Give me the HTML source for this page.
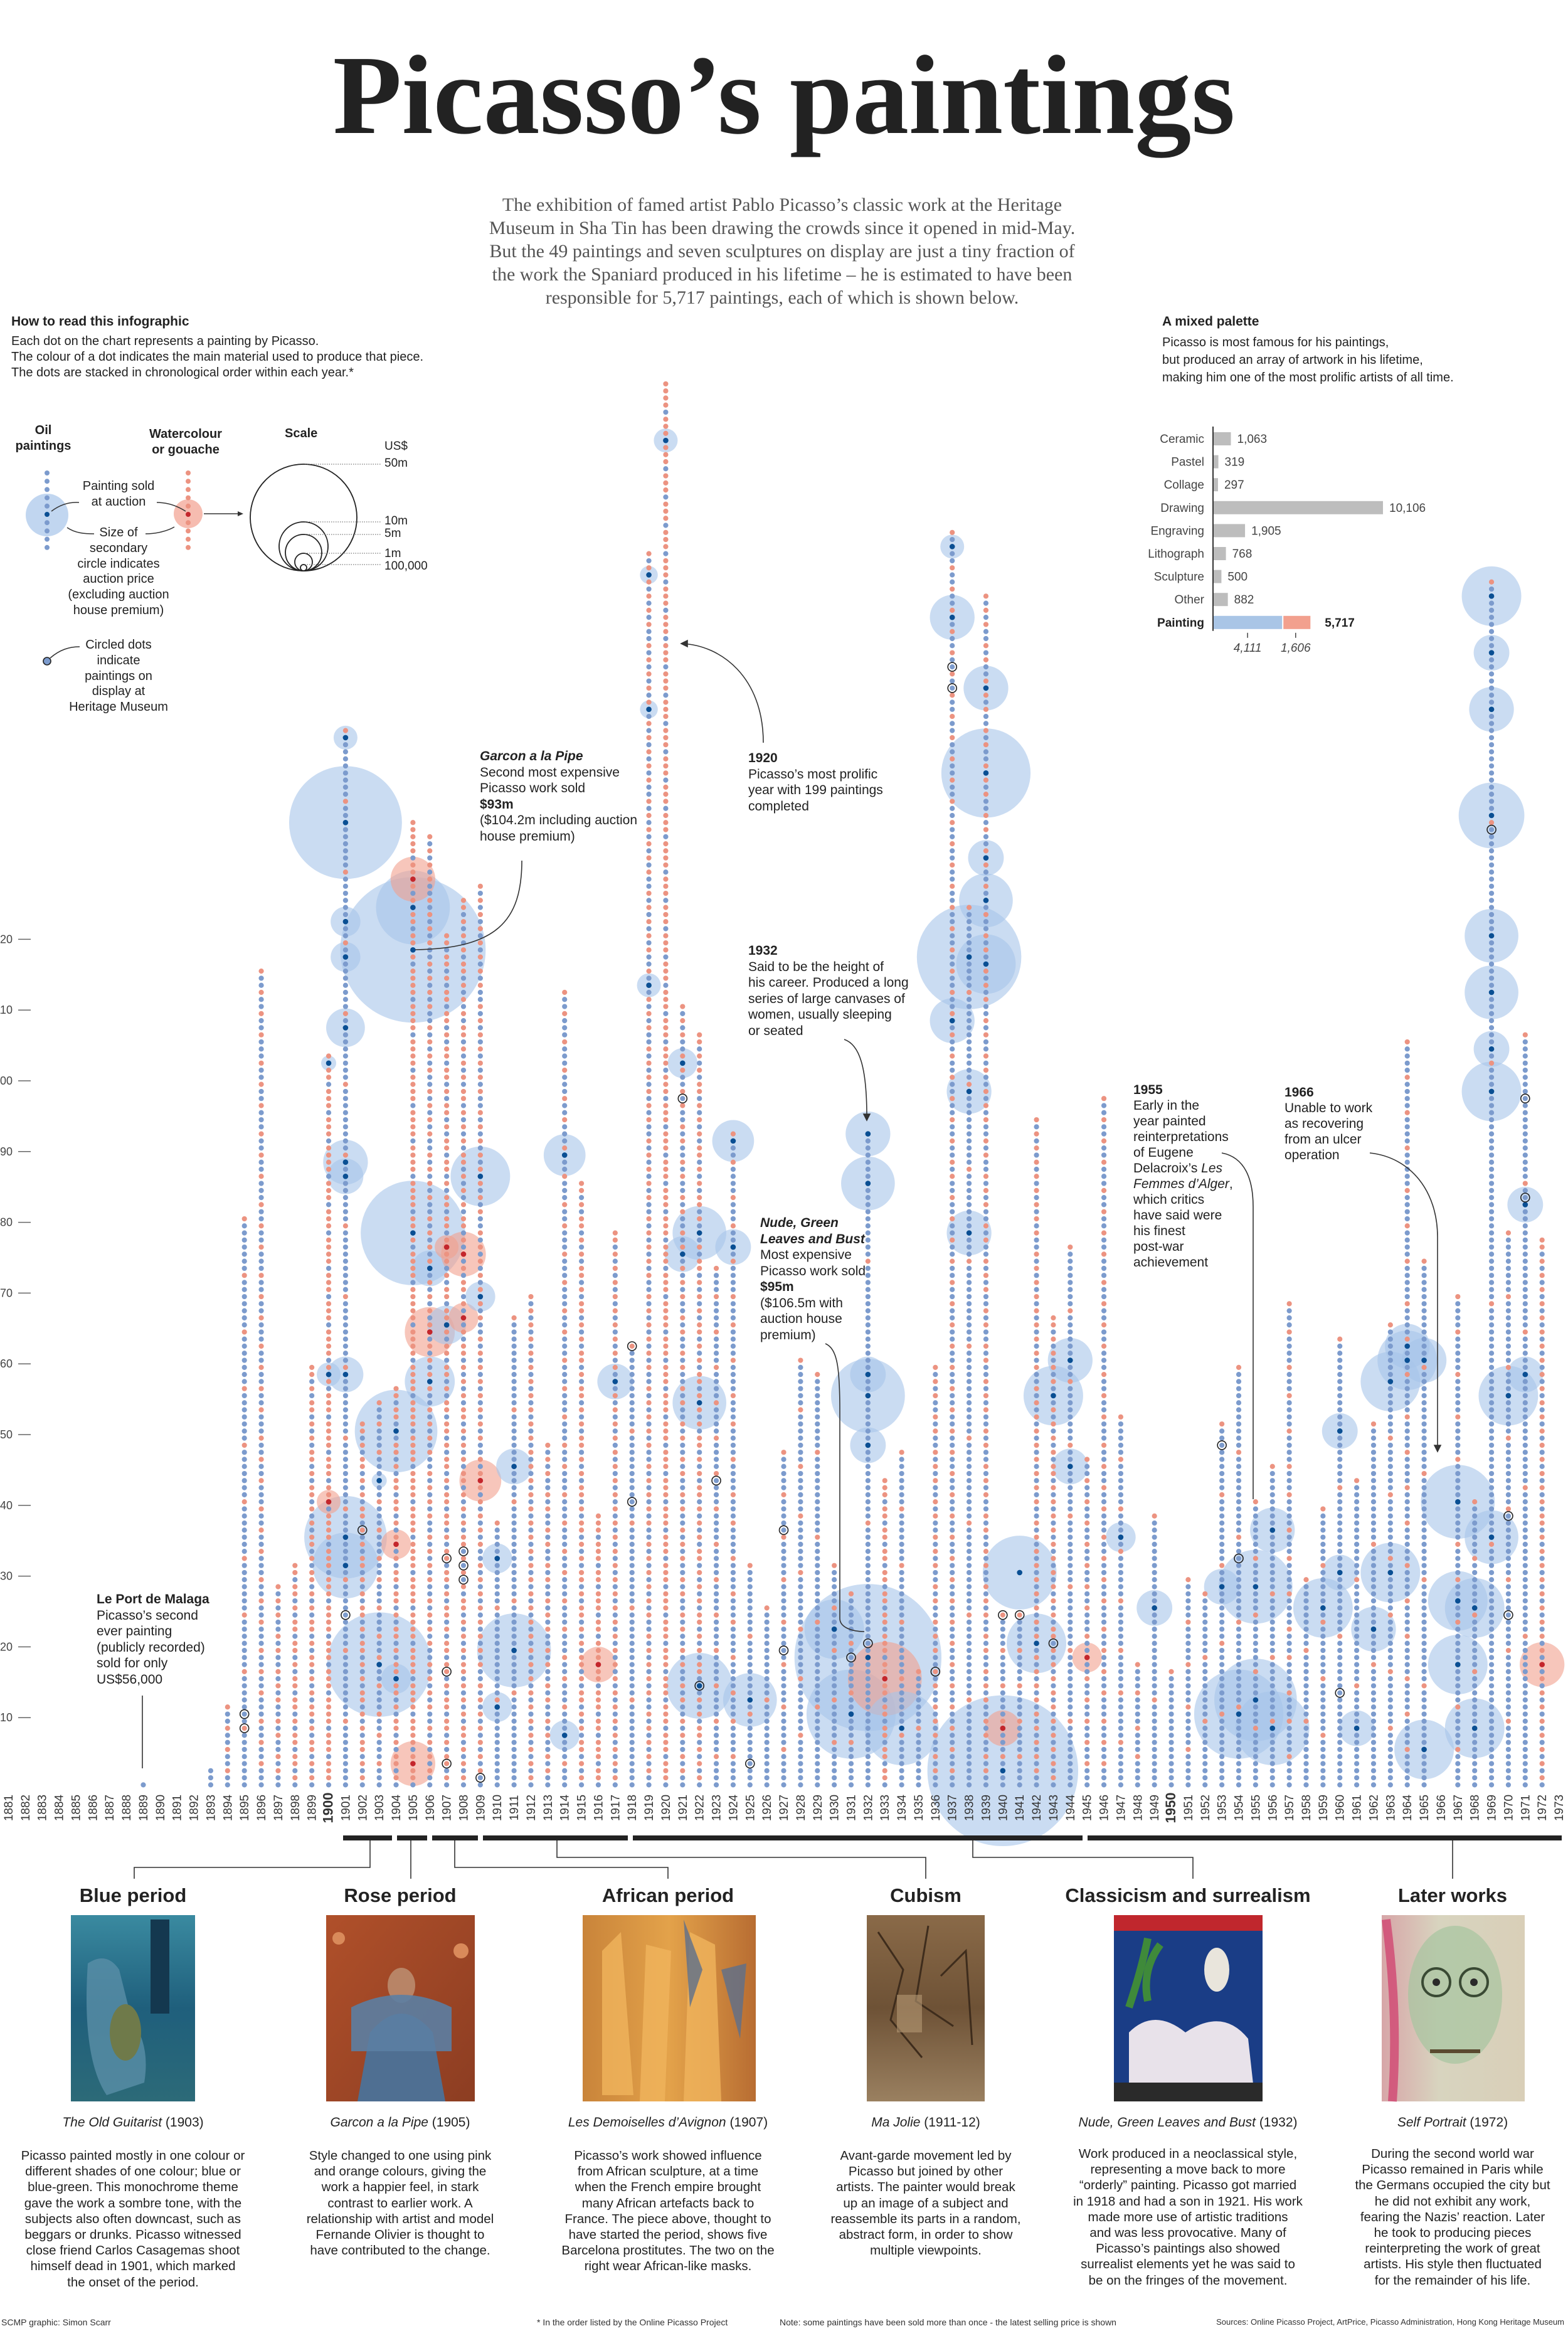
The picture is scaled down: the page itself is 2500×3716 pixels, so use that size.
<!DOCTYPE html>
<html><head><meta charset="utf-8">
<style>
html,body{margin:0;padding:0;background:#fff;}
body{width:2500px;height:3716px;position:relative;overflow:hidden;font-family:"Liberation Sans Narrow","Liberation Sans",sans-serif;color:#222;}
.abs{position:absolute;}
.t{font-family:"Liberation Sans Narrow","Liberation Sans",sans-serif;}
.ann{font-size:21px;line-height:25.5px;color:#222;}
.ann b{font-weight:700;}
.ptitle{font-size:31px;font-weight:700;text-align:center;width:500px;margin-left:-250px;top:3004px;}
.cap{font-size:21px;font-style:normal;text-align:center;width:460px;margin-left:-230px;top:3372px;}
.body{font-size:20.5px;line-height:25.2px;text-align:center;width:460px;margin-left:-230px;top:3424px;color:#222;}
.foot{font-size:14px;top:3694px;color:#333;white-space:nowrap;}
</style></head>
<body>

<div class="abs" style="left:0;width:2500px;top:62px;text-align:center;font-family:'Liberation Serif',serif;font-weight:700;font-size:180px;line-height:180px;color:#222;">Picasso’s paintings</div>

<div class="abs" style="left:647px;width:1200px;top:308px;text-align:center;font-family:'Liberation Serif',serif;font-size:30px;line-height:37px;color:#555;">The exhibition of famed artist Pablo Picasso’s classic work at the Heritage<br>Museum in Sha Tin has been drawing the crowds since it opened in mid-May.<br>But the 49 paintings and seven sculptures on display are just a tiny fraction of<br>the work the Spaniard produced in his lifetime – he is estimated to have been<br>responsible for 5,717 paintings, each of which is shown below.</div>

<div class="abs t" style="left:18px;top:501px;font-size:21px;font-weight:700;">How to read this infographic</div>
<div class="abs t" style="left:18px;top:532px;font-size:20px;line-height:25px;">Each dot on the chart represents a painting by Picasso.<br>The colour of a dot indicates the main material used to produce that piece.<br>The dots are stacked in chronological order within each year.*</div>

<div class="abs t" style="left:19px;width:100px;top:674px;font-size:20px;line-height:25px;font-weight:700;text-align:center;">Oil<br>paintings</div>
<div class="abs t" style="left:226px;width:140px;top:680px;font-size:20px;line-height:25px;font-weight:700;text-align:center;">Watercolour<br>or gouache</div>
<div class="abs t" style="left:454px;top:680px;font-size:20px;font-weight:700;">Scale</div>
<div class="abs t" style="left:109px;width:160px;top:763px;font-size:20px;line-height:25px;text-align:center;">Painting sold<br>at auction</div>
<div class="abs t" style="left:94px;width:190px;top:837px;font-size:20px;line-height:24.8px;text-align:center;">Size of<br>secondary<br>circle indicates<br>auction price<br>(excluding auction<br>house premium)</div>
<div class="abs t" style="left:104px;width:170px;top:1016px;font-size:20px;line-height:24.8px;text-align:center;">Circled dots<br>indicate<br>paintings on<br>display at<br>Heritage Museum</div>
<div class="abs t" style="left:613px;top:0;font-size:19px;color:#222;">
<div class="abs" style="top:701px;">US$</div><div class="abs" style="top:728px;">50m</div><div class="abs" style="top:820px;">10m</div><div class="abs" style="top:840px;">5m</div><div class="abs" style="top:872px;">1m</div><div class="abs" style="top:892px;">100,000</div></div>

<div class="abs t" style="left:1853px;top:501px;font-size:21px;font-weight:700;">A mixed palette</div>
<div class="abs t" style="left:1853px;top:532px;font-size:20px;line-height:28px;">Picasso is most famous for his paintings,<br>but produced an array of artwork in his lifetime,<br>making him one of the most prolific artists of all time.</div>

<div class="abs t ann" style="left:765px;top:1193px;"><b><i>Garcon a la Pipe</i></b><br>Second most expensive<br>Picasso work sold<br><b>$93m</b><br>($104.2m including auction<br>house premium)</div>
<div class="abs t ann" style="left:1193px;top:1196px;"><b>1920</b><br>Picasso’s most prolific<br>year with 199 paintings<br>completed</div>
<div class="abs t ann" style="left:1193px;top:1503px;"><b>1932</b><br>Said to be the height of<br>his career. Produced a long<br>series of large canvases of<br>women, usually sleeping<br>or seated</div>
<div class="abs t ann" style="left:1212px;top:1937px;"><b><i>Nude, Green<br>Leaves and Bust</i></b><br>Most expensive<br>Picasso work sold<br><b>$95m</b><br>($106.5m with<br>auction house<br>premium)</div>
<div class="abs t ann" style="left:1807px;top:1725px;line-height:25px;"><b>1955</b><br>Early in the<br>year painted<br>reinterpretations<br>of Eugene<br>Delacroix’s <i>Les<br>Femmes d’Alger</i>,<br>which critics<br>have said were<br>his finest<br>post-war<br>achievement</div>
<div class="abs t ann" style="left:2048px;top:1729px;line-height:25px;"><b>1966</b><br>Unable to work<br>as recovering<br>from an ulcer<br>operation</div>
<div class="abs t ann" style="left:154px;top:2537px;"><b>Le Port de Malaga</b><br>Picasso’s second<br>ever painting<br>(publicly recorded)<br>sold for only<br>US$56,000</div>

<svg id="chart" class="abs" style="left:0;top:0;" width="2500" height="3716">
<g id="legendG"></g>
<g id="barG"></g>
<g id="axisG"></g>
<g id="bubbleG"></g>
<g id="dotG"></g>
<g id="markG"></g>
<g id="yearG"></g>
<g id="leaderG" fill="none" stroke="#333" stroke-width="1.6">
<path d="M832,1372 C832,1470 790,1512 662,1514"/>
<path d="M1217,1184 C1217,1080 1150,1028 1086,1026"/><path d="M1086,1026 l10,-5 v10 z" fill="#333"/>
<path d="M1346,1657 C1370,1665 1382,1700 1382,1780"/><path d="M1382,1786 l-5,-10 h10 z" fill="#333"/>
<path d="M1316,2142 C1335,2150 1339,2180 1339,2250 V2580 C1339,2595 1360,2601 1378,2601"/>
<path d="M1948,1838 C1985,1845 1998,1880 1998,1924 V2390"/>
<path d="M2184,1838 C2250,1845 2292,1900 2292,1972 V2308"/><path d="M2292,2314 l-5,-10 h10 z" fill="#333"/>
<path d="M227,2703 V2819"/>
</g>
<g id="periodG"></g>
</svg>

<div class="abs t ptitle" style="left:212px;">Blue period</div>
<div class="abs t ptitle" style="left:638px;">Rose period</div>
<div class="abs t ptitle" style="left:1065px;">African period</div>
<div class="abs t ptitle" style="left:1476px;">Cubism</div>
<div class="abs t ptitle" style="left:1894px;">Classicism and surrealism</div>
<div class="abs t ptitle" style="left:2316px;">Later works</div>

<div class="abs t cap" style="left:212px;"><i>The Old Guitarist</i> (1903)</div>
<div class="abs t cap" style="left:638px;"><i>Garcon a la Pipe</i> (1905)</div>
<div class="abs t cap" style="left:1065px;"><i>Les Demoiselles d’Avignon</i> (1907)</div>
<div class="abs t cap" style="left:1476px;"><i>Ma Jolie</i> (1911-12)</div>
<div class="abs t cap" style="left:1894px;"><i>Nude, Green Leaves and Bust</i> (1932)</div>
<div class="abs t cap" style="left:2316px;"><i>Self Portrait</i> (1972)</div>

<div class="abs t body" style="left:212px;">Picasso painted mostly in one colour or<br>different shades of one colour; blue or<br>blue-green. This monochrome theme<br>gave the work a sombre tone, with the<br>subjects also often downcast, such as<br>beggars or drunks. Picasso witnessed<br>close friend Carlos Casagemas shoot<br>himself dead in 1901, which marked<br>the onset of the period.</div>
<div class="abs t body" style="left:638px;">Style changed to one using pink<br>and orange colours, giving the<br>work a happier feel, in stark<br>contrast to earlier work. A<br>relationship with artist and model<br>Fernande Olivier is thought to<br>have contributed to the change.</div>
<div class="abs t body" style="left:1065px;">Picasso’s work showed influence<br>from African sculpture, at a time<br>when the French empire brought<br>many African artefacts back to<br>France. The piece above, thought to<br>have started the period, shows five<br>Barcelona prostitutes. The two on the<br>right wear African-like masks.</div>
<div class="abs t body" style="left:1476px;">Avant-garde movement led by<br>Picasso but joined by other<br>artists. The painter would break<br>up an image of a subject and<br>reassemble its parts in a random,<br>abstract form, in order to show<br>multiple viewpoints.</div>
<div class="abs t body" style="left:1894px;top:3421px;">Work produced in a neoclassical style,<br>representing a move back to more<br>“orderly” painting. Picasso got married<br>in 1918 and had a son in 1921. His work<br>made more use of artistic traditions<br>and was less provocative. Many of<br>Picasso’s paintings also showed<br>surrealist elements yet he was said to<br>be on the fringes of the movement.</div>
<div class="abs t body" style="left:2316px;top:3421px;">During the second world war<br>Picasso remained in Paris while<br>the Germans occupied the city but<br>he did not exhibit any work,<br>fearing the Nazis’ reaction. Later<br>he took to producing pieces<br>reinterpreting the work of great<br>artists. His style then fluctuated<br>for the remainder of his life.</div>

<svg class="abs" style="left:0;top:0;" width="2500" height="3716">
<defs>
<linearGradient id="gBlue" x1="0" y1="0" x2="0" y2="1"><stop offset="0" stop-color="#3a8aa0"/><stop offset="0.5" stop-color="#1f5f7c"/><stop offset="1" stop-color="#2c6a78"/></linearGradient>
<linearGradient id="gRose" x1="0" y1="0" x2="1" y2="1"><stop offset="0" stop-color="#b0502a"/><stop offset="1" stop-color="#8c3d22"/></linearGradient>
<linearGradient id="gAfr" x1="0" y1="0" x2="1" y2="0"><stop offset="0" stop-color="#c9843a"/><stop offset="0.5" stop-color="#e3a24a"/><stop offset="1" stop-color="#b86d32"/></linearGradient>
<linearGradient id="gCub" x1="0" y1="0" x2="0" y2="1"><stop offset="0" stop-color="#8a6a48"/><stop offset="0.5" stop-color="#6e5236"/><stop offset="1" stop-color="#9a8060"/></linearGradient>
<linearGradient id="gLat" x1="0" y1="0" x2="1" y2="0"><stop offset="0" stop-color="#d7a6a8"/><stop offset="0.4" stop-color="#d8d4bf"/><stop offset="1" stop-color="#d9cfb8"/></linearGradient>
</defs>
<g><rect x="113" y="3053" width="198" height="297" fill="url(#gBlue)"/><path d="M140,3130 q30,-20 50,10 l20,80 q30,40 20,100 l-60,20 q-40,-60 -30,-210z" fill="#5a8fa8" opacity="0.8"/><ellipse cx="200" cy="3240" rx="25" ry="45" fill="#6f7a4a"/><rect x="240" y="3060" width="30" height="150" fill="#14384f"/></g>
<g><rect x="520" y="3053" width="237" height="297" fill="url(#gRose)"/><path d="M590,3240 q50,-60 100,0 l20,110 h-140z" fill="#4f6f92"/><ellipse cx="640" cy="3165" rx="22" ry="28" fill="#b88466"/><path d="M560,3200 q80,-40 160,0 v70 h-160z" fill="#5b7ea3" opacity="0.9"/><circle cx="540" cy="3090" r="10" fill="#d98a5a"/><circle cx="735" cy="3110" r="12" fill="#d98a5a"/></g>
<g><rect x="929" y="3053" width="276" height="297" fill="url(#gAfr)"/><path d="M960,3110 l30,-30 l20,260 h-50z M1030,3100 l40,10 l-10,240 h-40z M1100,3080 l40,20 l10,250 h-60z" fill="#f0b45c" opacity="0.8"/><path d="M1090,3060 l30,80 l-20,60z M1150,3140 l40,-10 l-10,120z" fill="#5d6f8c" opacity="0.8"/></g>
<g><rect x="1382" y="3053" width="188" height="297" fill="url(#gCub)"/><path d="M1400,3080 l40,60 l-20,80 l50,60 M1480,3070 l-20,120 l60,40 M1500,3150 l40,-40 l10,150" stroke="#3e2c1c" stroke-width="3" fill="none"/><rect x="1430" y="3180" width="40" height="60" fill="#b59a74" opacity="0.6"/></g>
<g><rect x="1776" y="3053" width="237" height="297" fill="#1a3d86"/><rect x="1776" y="3053" width="237" height="25" fill="#c0272d"/><path d="M1800,3240 q40,-40 90,0 q60,-40 100,10 l10,90 h-200z" fill="#e8e2ea"/><ellipse cx="1940" cy="3140" rx="20" ry="35" fill="#e9e5dc"/><path d="M1800,3200 q20,-60 30,-110 M1830,3190 q-10,-50 20,-90" stroke="#3f8a3a" stroke-width="12" fill="none"/><rect x="1776" y="3320" width="237" height="30" fill="#2a2a2a"/></g>
<g><rect x="2203" y="3053" width="228" height="297" fill="url(#gLat)"/><ellipse cx="2320" cy="3180" rx="75" ry="110" fill="#a7c4a0" opacity="0.7"/><circle cx="2290" cy="3160" r="22" fill="none" stroke="#3a4a34" stroke-width="4"/><circle cx="2350" cy="3160" r="22" fill="none" stroke="#3a4a34" stroke-width="4"/><circle cx="2290" cy="3160" r="6" fill="#2a2a2a"/><circle cx="2350" cy="3160" r="6" fill="#2a2a2a"/><path d="M2280,3270 h80" stroke="#5a4a30" stroke-width="6"/><path d="M2210,3060 q20,150 10,290" stroke="#d0386a" stroke-width="14" fill="none" opacity="0.7"/></g>
</svg>

<div class="abs t foot" style="left:2px;">SCMP graphic: Simon Scarr</div>
<div class="abs t foot" style="left:856px;">* In the order listed by the Online Picasso Project</div>
<div class="abs t foot" style="left:1243px;">Note: some paintings have been sold more than once - the latest selling price is shown</div>
<div class="abs t foot" style="right:6px;font-size:13px;">Sources: Online Picasso Project, ArtPrice, Picasso Administration, Hong Kong Heritage Museum</div>

<script>
// ===== data =====
var startYear = 1881;
var paintingCounts = [0,0,0,0,0,0,0,0,1,0,0,0,3,12,81,116,29,32,60,104,150,52,55,57,137,135,121,126,128,38,67,70,49,113,86,39,79,63,175,199,111,107,74,93,32,26,48,61,59,32,28,93,44,48,17,60,178,125,169,25,25,95,67,77,47,98,53,18,39,17,30,28,52,60,41,46,69,30,40,64,44,52,66,106,75,0,70,41,171,79,107,78,0];
var watercolourCounts = [0,0,0,0,0,0,0,0,0,0,0,0,0,4,10,35,12,20,35,80,15,30,15,35,110,60,75,70,60,3,5,35,20,30,50,28,40,5,80,150,45,60,15,20,3,2,8,8,5,5,4,5,30,6,2,25,60,10,70,5,5,45,35,8,15,30,8,4,3,1,5,3,5,5,5,5,15,3,5,3,3,3,8,20,5,0,12,5,5,8,5,40,0];
var bubbleYears =  [1901,1901,1901,1901,1901,1901,1901,1901,1901,1901,1900,1900,1900,1903,1903,1904,1904,1904,1905,1905,1905,1905,1905,1906,1906,1906,1907,1907,1908,1908,1909,1909,1909,1910,1910,1911,1911,1914,1914,1916,1917,1919,1919,1919,1920,1921,1922,1921,1922,1922,1924,1924,1925,1932,1932,1932,1932,1932,1932,1931,1933,1930,1934,1937,1937,1938,1939,1939,1939,1939,1939,1938,1938,1937,1940,1940,1941,1942,1943,1944,1944,1945,1947,1949,1953,1954,1955,1956,1955,1956,1959,1960,1960,1961,1962,1963,1963,1964,1964,1965,1965,1967,1967,1967,1968,1968,1969,1969,1969,1969,1969,1969,1969,1969,1969,1970,1971,1971,1972];
var bubbleIndex =  [148,136,122,117,107,88,86,58,35,31,102,58,40,17,43,50,34,15,118,124,128,78,3,64,57,73,65,76,75,66,86,69,43,32,11,19,45,89,7,17,57,171,152,113,190,102,78,75,54,14,91,76,12,92,85,58,55,48,18,10,15,22,8,175,165,117,143,155,131,125,116,98,78,108,2,8,30,20,55,60,45,18,35,25,28,10,12,8,28,36,25,50,30,8,22,57,30,60,62,5,60,40,26,17,25,8,168,160,152,137,120,112,104,98,35,55,82,58,17];
var bubblePrice =  [2.5,56,3.9,3.9,6.6,8.8,5.6,5.6,30,19,1,2.5,2.5,48,1,30,3.9,3.9,93,24,8.8,48,8.8,11,11,5.6,6.6,2.5,8.8,3.9,15.6,3.9,7.7,3.9,3.9,24,5.6,7.7,3.9,5.6,5.6,1.4,1.4,2.5,2.5,3.9,12.7,5.6,12.7,19,7.7,5.6,12.7,8.8,12.7,5.6,24,5.6,95,35,24,15.6,24,2.5,8.8,48,35,8.8,5.6,12.7,15.6,8.8,8.8,8.8,100,5.6,24,15.6,15.6,8.8,5.6,3.9,3.9,5.6,5.6,35,30,24,24,8.8,15.6,5.6,5.6,5.6,8.8,15.6,15.6,15.6,8.8,15.6,8.8,24,15.6,15.6,15.6,15.6,15.6,5.6,8.8,19,12.7,12.7,5.6,15.6,12.7,15.6,5.6,5.6,8.8,5.6];
var bubbleWater =  [0,0,0,0,0,0,0,0,0,0,0,0,1,0,0,0,1,0,0,0,1,0,1,1,0,0,0,1,1,1,0,0,1,0,0,0,0,0,0,1,0,0,0,0,0,0,0,0,0,0,0,0,0,0,0,0,0,0,0,0,1,0,0,0,0,0,0,0,0,0,0,0,0,0,0,1,0,0,0,0,0,1,0,0,0,0,0,0,0,0,0,0,0,0,0,0,0,0,0,0,0,0,0,0,0,0,0,0,0,0,0,0,0,0,0,0,0,0,1];
var museumYears = [1895,1895,1901,1902,1907,1907,1907,1908,1908,1908,1909,1918,1918,1921,1922,1923,1925,1927,1927,1932,1931,1936,1937,1937,1940,1941,1943,1953,1954,1960,1969,1970,1970,1971,1971];
var museumIndex = [10,8,24,36,32,16,3,33,31,29,1,62,40,97,14,43,3,36,19,20,18,16,158,155,24,24,20,48,32,13,135,38,24,97,83];
var yTicks = [10,20,30,40,50,60,70,80,90,100,110,120];
var mediumLabels = ["Ceramic","Pastel","Collage","Drawing","Engraving","Lithograph","Sculpture","Other"];
var mediumValues = [1063,319,297,10106,1905,768,500,882];
var paintingOil = 4111;
var paintingWater = 1606;

// ===== scales =====
var NS = "http://www.w3.org/2000/svg";
function xFor(year){ return 13.5 + (year - startYear) * 26.87; }
function yFor(i){ return 2851 - (i + 0.5) * 11.28; }
function yVal(v){ return 2851 - v * 11.28; }
function rFor(price){ return 85 * Math.sqrt(price / 50); }
function mk(tag, attrs, parent){ var e = document.createElementNS(NS, tag); for (var k in attrs) e.setAttribute(k, attrs[k]); parent.appendChild(e); return e; }

var axisG = document.getElementById('axisG');
yTicks.forEach(function(v){
  var y = yVal(v);
  var ln = mk('line', {x1:29, x2:49, y1:y, y2:y, stroke:'#666', 'stroke-width':1.5}, axisG);
  
  
  var tx = mk('text', {x:20, y:y + 6, 'text-anchor':'end', 'font-size':18, fill:'#444', 'font-family':'Liberation Sans, sans-serif'}, axisG);
  tx.textContent = v;
  
  
});

var bubbleG = document.getElementById('bubbleG');
bubbleYears.forEach(function(yr, k){
  var c = mk('circle', {cx:xFor(yr), cy:yFor(bubbleIndex[k]), r:rFor(bubblePrice[k]), fill: bubbleWater[k] ? '#f2a08e' : '#a6c5e9', 'fill-opacity':0.6}, bubbleG);
  
  
});

var dotG = document.getElementById('dotG');
paintingCounts.forEach(function(n, k){
  var yr = startYear + k, w = watercolourCounts[k], x = xFor(yr);
  for (var i = 0; i < n; i++){
    var red = Math.floor((i + 1) * w / n) > Math.floor(i * w / n);
    var d = mk('circle', {cx:x, cy:yFor(i), r:4.1, fill: red ? '#ec9381' : '#7c9bcd'}, dotG);
    
    
  }
});

var markG = document.getElementById('markG');
bubbleYears.forEach(function(yr, k){
  var d = mk('circle', {cx:xFor(yr), cy:yFor(bubbleIndex[k]), r:4.3, fill: bubbleWater[k] ? '#c4262c' : '#0a4f93'}, markG);
  
  
});
museumYears.forEach(function(yr, k){
  var d = mk('circle', {cx:xFor(yr), cy:yFor(museumIndex[k]), r:7, fill:'none', stroke:'#222', 'stroke-width':1.6}, markG);
  
  
});

var yearG = document.getElementById('yearG');
for (var yr = startYear; yr <= 1973; yr++){
  var x = xFor(yr);
  var bold = (yr === 1900 || yr === 1950);
  var t = mk('text', {x:0, y:0, transform:'translate(' + (x + 6.5) + ',2882) rotate(-90)', 'text-anchor':'middle', 'font-size': bold ? 22 : 19, 'font-weight': bold ? 700 : 400, fill:'#333', 'font-family':'Liberation Sans Narrow, Liberation Sans, sans-serif'}, yearG);
  t.textContent = yr;
  
  
}

var barG = document.getElementById('barG');
var bx = 1934, bs = 271 / 10106;
mediumLabels.forEach(function(lab, k){
  var y = 699 + k * 36.6;
  var r = mk('rect', {x:bx, y:y - 10, width: mediumValues[k] * bs, height:21, fill:'#bdbdbd'}, barG);
  
  
  var l = mk('text', {x:1920, y:y + 7, 'text-anchor':'end', 'font-size':19, fill:'#444', 'font-family':'Liberation Sans, sans-serif'}, barG);
  l.textContent = lab;
  
  
  var v = mk('text', {x:bx + mediumValues[k] * bs + 10, y:y + 7, 'font-size':19, fill:'#444', 'font-family':'Liberation Sans, sans-serif'}, barG);
  v.textContent = mediumValues[k].toLocaleString('en-US');
  
  
});
(function(){
  var y = 699 + 8 * 36.6;
  var wo = paintingOil * bs, ww = paintingWater * bs;
  var r1 = mk('rect', {x:bx, y:y - 10, width:wo, height:21, fill:'#a9c5e6'}, barG);
  
  
  var r2 = mk('rect', {x:bx + wo + 2, y:y - 10, width:ww, height:21, fill:'#f2a08e'}, barG);
  
  
  var l = mk('text', {x:1920, y:y + 7, 'text-anchor':'end', 'font-size':19, 'font-weight':700, fill:'#222', 'font-family':'Liberation Sans, sans-serif'}, barG);
  l.textContent = 'Painting';
  
  
  var v = mk('text', {x:bx + wo + ww + 25, y:y + 7, 'font-size':19, 'font-weight':700, fill:'#222', 'font-family':'Liberation Sans, sans-serif'}, barG);
  v.textContent = (paintingOil + paintingWater).toLocaleString('en-US');
  
  
  [[bx + wo / 2, paintingOil], [bx + wo + ww / 2, paintingWater]].forEach(function(p){
    mk('line', {x1:p[0], x2:p[0], y1:y + 17, y2:y + 25, stroke:'#444', 'stroke-width':1.5}, barG);
    var t = mk('text', {x:p[0], y:y + 47, 'text-anchor':'middle', 'font-size':19, 'font-style':'italic', fill:'#444', 'font-family':'Liberation Sans, sans-serif'}, barG);
    t.textContent = p[1].toLocaleString('en-US');
    
    
  });
  mk('line', {x1:bx, x2:bx, y1:680, y2:y + 14, stroke:'#333', 'stroke-width':2}, barG);
})();

var lg = document.getElementById('legendG');
mk('circle', {cx:75, cy:821, r:34, fill:'#a6c5e9', 'fill-opacity':0.7}, lg);
for (var i = 0; i < 10; i++){ mk('circle', {cx:75, cy:754 + i * 13.2, r:4, fill: i === 5 ? '#0a4f93' : '#7c9bcd'}, lg); }
mk('circle', {cx:300, cy:819, r:23, fill:'#f2a08e', 'fill-opacity':0.7}, lg);
for (var i = 0; i < 10; i++){ mk('circle', {cx:300, cy:754 + i * 13.2, r:4, fill: i === 5 ? '#c4262c' : '#ec9381'}, lg); }
mk('path', {d:'M82,815 C95,805 110,800 126,801', fill:'none', stroke:'#333', 'stroke-width':1.5}, lg);
mk('path', {d:'M250,801 C270,801 285,808 296,815', fill:'none', stroke:'#333', 'stroke-width':1.5}, lg);
mk('path', {d:'M107,841 C120,850 135,851 150,851', fill:'none', stroke:'#333', 'stroke-width':1.5}, lg);
mk('path', {d:'M232,851 C250,851 268,846 278,840', fill:'none', stroke:'#333', 'stroke-width':1.5}, lg);
mk('line', {x1:325, x2:384, y1:819, y2:819, stroke:'#333', 'stroke-width':1.5}, lg);
mk('path', {d:'M388,819 l-9,-4 v8 z', fill:'#333'}, lg);
mk('circle', {cx:75, cy:1054, r:6, fill:'#7c9bcd', stroke:'#222', 'stroke-width':1.6}, lg);
mk('path', {d:'M80,1049 C95,1036 110,1031 127,1031', fill:'none', stroke:'#333', 'stroke-width':1.5}, lg);
[[50,85],[10,39],[5,29],[1,14],[0.1,5]].forEach(function(s){
  var r = s[1];
  mk('circle', {cx:484, cy:910 - r, r:r, fill:'none', stroke:'#222', 'stroke-width':1.8}, lg);
  mk('line', {x1:486, x2:607, y1:910 - 2 * r, y2:910 - 2 * r, stroke:'#555', 'stroke-width':1, 'stroke-dasharray':'1.5,2'}, lg);
});

var pg = document.getElementById('periodG');
[[547,625],[633,681],[689,762],[770,1001],[1009,1726],[1734,2490]].forEach(function(s){
  mk('rect', {x:s[0], y:2926, width:s[1] - s[0], height:8, fill:'#222'}, pg);
});
['M590,2934 V2977 H214 V2995','M655,2934 V2995','M725,2934 V2977 H1065 V2995','M888,2934 V2961 H1476 V2995','M1551,2934 V2961 H1902 V2995','M2316,2934 V2995'].forEach(function(d){
  mk('path', {d:d, fill:'none', stroke:'#333', 'stroke-width':1.6}, pg);
});
</script>
</body></html>
